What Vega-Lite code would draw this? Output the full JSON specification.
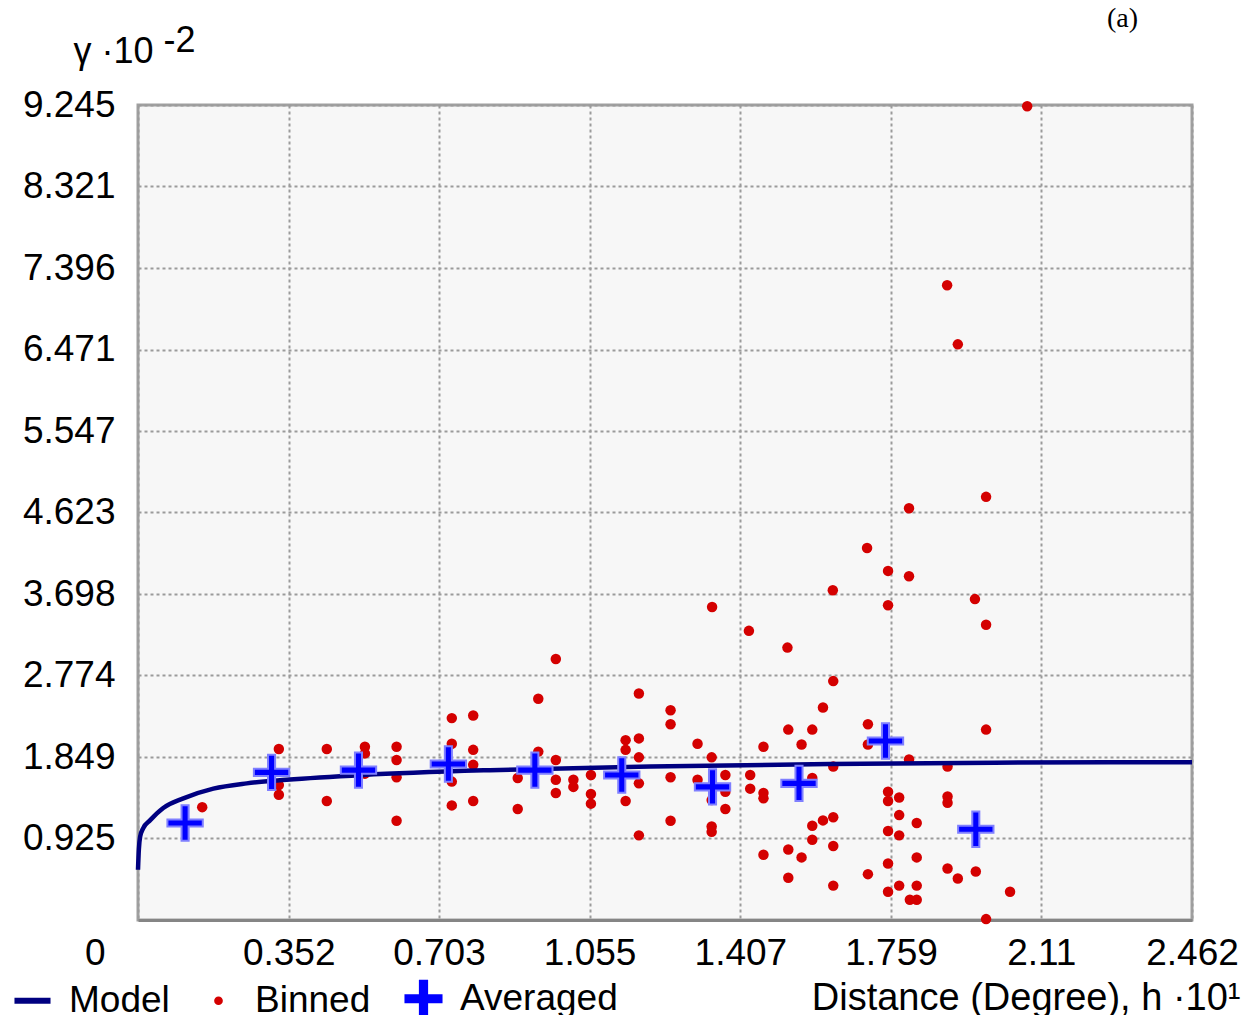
{
  "$schema": "https://vega.github.io/schema/vega-lite/v6.json",
  "width": 1054,
  "height": 815,
  "autosize": "none",
  "padding": {"left": 138, "top": 105, "right": 53, "bottom": 95},
  "background": "white",
  "title": {"text": "(a)", "anchor": "end", "frame": "group", "font": "Liberation Serif", "fontSize": 28, "fontWeight": "normal", "color": "#000", "dx": -54, "offset": -11},
  "data": {"values": [
    {"s":"Model","x":0,"y":0.57},{"s":"Model","x":0.002,"y":0.8},{"s":"Model","x":0.005,"y":0.945},{"s":"Model","x":0.012,"y":1.04},
    {"s":"Model","x":0.028,"y":1.13},{"s":"Model","x":0.059,"y":1.27},{"s":"Model","x":0.106,"y":1.38},{"s":"Model","x":0.176,"y":1.49},
    {"s":"Model","x":0.254,"y":1.55},{"s":"Model","x":0.347,"y":1.59},{"s":"Model","x":0.526,"y":1.645},{"s":"Model","x":0.822,"y":1.70},
    {"s":"Model","x":1.196,"y":1.74},{"s":"Model","x":1.616,"y":1.77},{"s":"Model","x":2.0,"y":1.785},{"s":"Model","x":2.462,"y":1.79},

    {"s":"Averaged","x":0.110,"y":1.10},{"s":"Averaged","x":0.312,"y":1.675},{"s":"Averaged","x":0.515,"y":1.70},{"s":"Averaged","x":0.725,"y":1.77},
    {"s":"Averaged","x":0.927,"y":1.70},{"s":"Averaged","x":1.130,"y":1.645},{"s":"Averaged","x":1.342,"y":1.51},{"s":"Averaged","x":1.544,"y":1.55},
    {"s":"Averaged","x":1.746,"y":2.03},{"s":"Averaged","x":1.957,"y":1.03},

    {"s":"Binned","x":2.077,"y":9.23},{"s":"Binned","x":1.890,"y":7.20},{"s":"Binned","x":1.915,"y":6.53},{"s":"Binned","x":1.981,"y":4.80},
    {"s":"Binned","x":1.801,"y":4.67},{"s":"Binned","x":1.703,"y":4.22},{"s":"Binned","x":1.752,"y":3.96},{"s":"Binned","x":1.801,"y":3.90},
    {"s":"Binned","x":1.623,"y":3.74},{"s":"Binned","x":1.955,"y":3.64},{"s":"Binned","x":1.752,"y":3.57},{"s":"Binned","x":1.341,"y":3.55},
    {"s":"Binned","x":1.981,"y":3.35},{"s":"Binned","x":1.427,"y":3.28},{"s":"Binned","x":1.517,"y":3.09},{"s":"Binned","x":0.976,"y":2.96},
    {"s":"Binned","x":1.624,"y":2.71},{"s":"Binned","x":1.600,"y":2.41},{"s":"Binned","x":1.575,"y":2.16},{"s":"Binned","x":1.705,"y":2.22},
    {"s":"Binned","x":1.705,"y":1.99},{"s":"Binned","x":1.550,"y":1.99},{"s":"Binned","x":1.981,"y":2.16},{"s":"Binned","x":1.801,"y":1.82},
    {"s":"Binned","x":1.624,"y":1.74},{"s":"Binned","x":1.891,"y":1.74},{"s":"Binned","x":1.575,"y":1.61},{"s":"Binned","x":1.752,"y":1.455},
    {"s":"Binned","x":1.752,"y":1.35},{"s":"Binned","x":1.778,"y":1.39},{"s":"Binned","x":1.891,"y":1.40},{"s":"Binned","x":1.891,"y":1.33},
    {"s":"Binned","x":1.778,"y":1.19},{"s":"Binned","x":1.819,"y":1.10},{"s":"Binned","x":1.624,"y":1.165},{"s":"Binned","x":1.600,"y":1.13},
    {"s":"Binned","x":1.575,"y":1.07},{"s":"Binned","x":1.575,"y":0.91},{"s":"Binned","x":1.752,"y":1.01},{"s":"Binned","x":1.778,"y":0.96},
    {"s":"Binned","x":1.624,"y":0.84},{"s":"Binned","x":1.550,"y":0.71},{"s":"Binned","x":1.819,"y":0.71},{"s":"Binned","x":1.752,"y":0.64},
    {"s":"Binned","x":1.891,"y":0.585},{"s":"Binned","x":1.957,"y":0.55},{"s":"Binned","x":1.915,"y":0.47},{"s":"Binned","x":1.705,"y":0.52},
    {"s":"Binned","x":1.624,"y":0.39},{"s":"Binned","x":1.778,"y":0.39},{"s":"Binned","x":1.819,"y":0.39},{"s":"Binned","x":1.752,"y":0.32},
    {"s":"Binned","x":1.803,"y":0.23},{"s":"Binned","x":1.819,"y":0.23},{"s":"Binned","x":2.037,"y":0.32},{"s":"Binned","x":1.981,"y":0.01},
    {"s":"Binned","x":0.935,"y":2.51},{"s":"Binned","x":0.783,"y":2.32},{"s":"Binned","x":1.170,"y":2.57},{"s":"Binned","x":1.244,"y":2.38},
    {"s":"Binned","x":1.244,"y":2.22},{"s":"Binned","x":1.519,"y":2.16},{"s":"Binned","x":1.461,"y":1.965},{"s":"Binned","x":1.307,"y":2.0},
    {"s":"Binned","x":1.340,"y":1.845},{"s":"Binned","x":0.783,"y":1.93},{"s":"Binned","x":1.139,"y":2.04},{"s":"Binned","x":1.170,"y":2.06},
    {"s":"Binned","x":1.139,"y":1.93},{"s":"Binned","x":1.170,"y":1.845},{"s":"Binned","x":0.935,"y":1.91},{"s":"Binned","x":0.976,"y":1.815},
    {"s":"Binned","x":0.783,"y":1.76},{"s":"Binned","x":0.887,"y":1.61},{"s":"Binned","x":0.976,"y":1.59},{"s":"Binned","x":0.976,"y":1.44},
    {"s":"Binned","x":1.017,"y":1.59},{"s":"Binned","x":1.017,"y":1.51},{"s":"Binned","x":1.058,"y":1.645},{"s":"Binned","x":1.058,"y":1.43},
    {"s":"Binned","x":1.058,"y":1.32},{"s":"Binned","x":1.170,"y":1.55},{"s":"Binned","x":1.139,"y":1.35},{"s":"Binned","x":1.244,"y":1.62},
    {"s":"Binned","x":1.307,"y":1.59},{"s":"Binned","x":1.372,"y":1.645},{"s":"Binned","x":1.372,"y":1.455},{"s":"Binned","x":1.372,"y":1.26},
    {"s":"Binned","x":1.340,"y":1.36},{"s":"Binned","x":1.430,"y":1.645},{"s":"Binned","x":1.430,"y":1.49},{"s":"Binned","x":1.461,"y":1.44},
    {"s":"Binned","x":1.461,"y":1.38},{"s":"Binned","x":0.887,"y":1.26},{"s":"Binned","x":0.783,"y":1.35},{"s":"Binned","x":1.244,"y":1.125},
    {"s":"Binned","x":1.170,"y":0.96},{"s":"Binned","x":1.340,"y":1.06},{"s":"Binned","x":1.340,"y":1.00},{"s":"Binned","x":1.461,"y":0.74},
    {"s":"Binned","x":1.519,"y":0.80},{"s":"Binned","x":1.519,"y":0.48},
    {"s":"Binned","x":0.150,"y":1.28},{"s":"Binned","x":0.329,"y":1.94},{"s":"Binned","x":0.329,"y":1.42},{"s":"Binned","x":0.329,"y":1.53},
    {"s":"Binned","x":0.441,"y":1.94},{"s":"Binned","x":0.441,"y":1.35},{"s":"Binned","x":0.530,"y":1.965},{"s":"Binned","x":0.530,"y":1.89},
    {"s":"Binned","x":0.530,"y":1.66},{"s":"Binned","x":0.604,"y":1.965},{"s":"Binned","x":0.604,"y":1.815},{"s":"Binned","x":0.604,"y":1.62},
    {"s":"Binned","x":0.604,"y":1.125},{"s":"Binned","x":0.733,"y":2.29},{"s":"Binned","x":0.733,"y":2.0},{"s":"Binned","x":0.733,"y":1.57},
    {"s":"Binned","x":0.733,"y":1.30}
  ]},
  "layer": [
    {
      "transform": [{"filter": "datum.s == 'Binned'"}],
      "mark": {"type": "point", "filled": true, "size": 110, "opacity": 1},
      "encoding": {
        "x": {"field": "x", "type": "quantitative", "scale": {"domain": [0, 2.462], "nice": false, "zero": false},
          "axis": {"values": [0, 0.352, 0.703, 1.055, 1.407, 1.759, 2.11, 2.462], "format": ".4~g",
            "labelAlign": {"condition": {"test": "datum.value == 0", "value": "right"}, "value": "center"},
            "labelOffset": {"condition": {"test": "datum.value == 0", "value": -33}, "value": 0},
            "labelPadding": 15, "domainColor": "#858585", "domainWidth": 3,
            "title": "Distance (Degree), h ·10¹", "titleFontSize": 38, "titleAnchor": "end", "titleAlign": "right", "titleBaseline": "alphabetic", "titleX": 1102, "titleY": 89}},
        "y": {"field": "y", "type": "quantitative", "scale": {"domain": [0, 9.245], "nice": false, "zero": false},
          "axis": {"values": [0.925, 1.849, 2.774, 3.698, 4.623, 5.547, 6.471, 7.396, 8.321, 9.245], "format": ".4~g",
            "labelPadding": 23, "domain": false,
            "title": ["\u200b\u00a0\u00a0\u00a0\u00a0\u00a0\u00a0\u00a0\u00a0\u00a0-2", "γ ·10"], "titleAngle": 0, "titleAlign": "left", "titleBaseline": "alphabetic",
            "titleX": -65, "titleY": -54, "titleLineHeight": 11, "titleFontSize": 36}},
        "color": {"field": "s", "type": "nominal", "scale": {"domain": ["Model", "Binned", "Averaged"], "range": ["#000080", "#d40000", "#0000ff"]},
          "legend": {"encode": {"symbols": {"update": {
            "stroke": {"signal": "datum.value == 'Model' ? '#000080' : datum.value == 'Averaged' ? 'rgba(0,0,255,0.45)' : 'transparent'"},
            "strokeWidth": {"signal": "datum.value == 'Model' ? 6 : 2"},
            "size": {"signal": "datum.value == 'Binned' ? 45 : 1300"}}}}}},
        "shape": {"field": "s", "type": "nominal", "scale": {"domain": ["Model", "Binned", "Averaged"], "range": ["stroke", "circle", "M-1,-0.2H-0.2V-1H0.2V-0.2H1V0.2H0.2V1H-0.2V0.2H-1Z"]},
          "legend": {"encode": {"symbols": {"update": {
            "stroke": {"signal": "datum.value == 'Model' ? '#000080' : datum.value == 'Averaged' ? 'rgba(0,0,255,0.45)' : 'transparent'"},
            "strokeWidth": {"signal": "datum.value == 'Model' ? 6 : 2"},
            "size": {"signal": "datum.value == 'Binned' ? 45 : 1300"}}}}}}
      }
    },
    {
      "transform": [{"filter": "datum.s == 'Model'"}],
      "mark": {"type": "line", "strokeWidth": 4.5, "interpolate": "monotone"},
      "encoding": {
        "x": {"field": "x", "type": "quantitative"},
        "y": {"field": "y", "type": "quantitative"},
        "color": {"field": "s", "type": "nominal",
          "legend": {"encode": {"symbols": {"update": {
            "stroke": {"signal": "datum.value == 'Model' ? '#000080' : datum.value == 'Averaged' ? 'rgba(0,0,255,0.45)' : 'transparent'"},
            "strokeWidth": {"signal": "datum.value == 'Model' ? 6 : 2"},
            "size": {"signal": "datum.value == 'Binned' ? 45 : 1300"}}}}}}
      }
    },
    {
      "transform": [{"filter": "datum.s == 'Averaged'"}],
      "mark": {"type": "point", "filled": true, "size": 1250, "opacity": 1, "stroke": "#7f7fff", "strokeWidth": 2},
      "encoding": {
        "x": {"field": "x", "type": "quantitative"},
        "y": {"field": "y", "type": "quantitative"},
        "color": {"field": "s", "type": "nominal",
          "legend": {"encode": {"symbols": {"update": {
            "stroke": {"signal": "datum.value == 'Model' ? '#000080' : datum.value == 'Averaged' ? 'rgba(0,0,255,0.45)' : 'transparent'"},
            "strokeWidth": {"signal": "datum.value == 'Model' ? 6 : 2"},
            "size": {"signal": "datum.value == 'Binned' ? 45 : 1300"}}}}}},
        "shape": {"field": "s", "type": "nominal",
          "legend": {"encode": {"symbols": {"update": {
            "stroke": {"signal": "datum.value == 'Model' ? '#000080' : datum.value == 'Averaged' ? 'rgba(0,0,255,0.45)' : 'transparent'"},
            "strokeWidth": {"signal": "datum.value == 'Model' ? 6 : 2"},
            "size": {"signal": "datum.value == 'Binned' ? 45 : 1300"}}}}}}
      }
    }
  ],
  "config": {
    "view": {"fill": "#f7f7f7", "stroke": "#a0a0a0", "strokeWidth": 3},
    "axis": {"labelFont": "Liberation Sans", "labelFontSize": 37, "labelColor": "#000", "titleFont": "Liberation Sans", "titleFontSize": 36,
      "titleFontWeight": "normal", "titleColor": "#000", "ticks": false, "grid": true, "gridColor": "#9b9b9b", "gridDash": [3, 3], "gridWidth": 2,
      "gridOpacity": 1, "labelOverlap": false, "labelFlush": false, "labelBound": false},
    "legend": {"orient": "none", "legendX": -124, "legendY": 875, "direction": "horizontal", "title": null,
      "labelFont": "Liberation Sans", "labelFontSize": 37, "labelColor": "#000", "labelOffset": 18, "columnPadding": 30, "symbolSize": 1300,
      "symbolStrokeWidth": 0}
  }
}
